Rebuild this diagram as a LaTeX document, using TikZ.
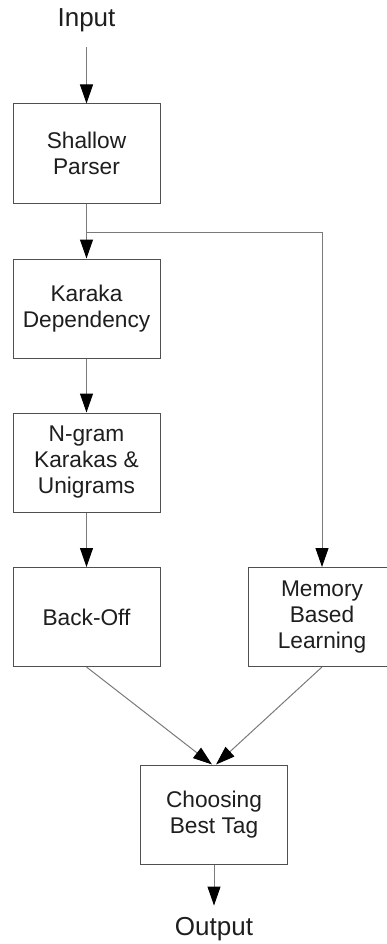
\documentclass[tikz,border=0pt]{standalone}
\usepackage{fontspec}
\setmainfont{Liberation Sans}
\usetikzlibrary{arrows.meta}
\definecolor{boxc}{HTML}{505050}
\definecolor{linec}{HTML}{7A7A7A}
\definecolor{txtc}{HTML}{1E1E1E}
\begin{document}
\begin{tikzpicture}[x=1pt,y=-1pt,
  box/.style={draw=boxc, line width=1pt, minimum width=147pt, minimum height=99pt,
    align=center, inner sep=0pt, text=txtc, font=\fontsize{22.7}{26}\selectfont},
  lbl/.style={inner sep=0pt, text=txtc, font=\fontsize{26}{30}\selectfont},
  conn/.style={draw=linec, line width=1pt, -{Triangle[length=19pt,width=13pt,black]}},
  plain/.style={draw=linec, line width=1pt}]
\useasboundingbox (0,0) rectangle (387,944);
\fill[white] (0,0) rectangle (387,944);
\node[lbl] (in) at (86.5,20.5) {Input};
\node[box] (sp) at (86.5,153.5) {Shallow\\Parser};
\node[box] (kd) at (86.5,308.5) {Karaka\\Dependency};
\node[box] (ng) at (86.5,462.5) {N-gram\\Karakas \&\\Unigrams};
\node[box] (bo) at (86.5,617) {Back-Off};
\node[box] (mb) at (322,617) {Memory\\Based\\Learning};
\node[box] (cb) at (214,814.5) {Choosing\\Best Tag};
\node[lbl] (out) at (214,929.5) {Output};
\coordinate (j) at (86.5,232);
\draw[conn, shorten <=15pt] (in) -- (sp);
\draw[conn] (sp) -- (kd);
\draw[conn] (j) -| (mb.north);
\draw[conn] (kd) -- (ng);
\draw[conn] (ng) -- (bo);
\draw[conn] (bo.south) -- ([xshift=-2pt]cb.north);
\draw[conn] (mb.south) -- ([xshift=2pt]cb.north);
\draw[conn, shorten >=12pt] (cb) -- (out);
\end{tikzpicture}
\end{document}
